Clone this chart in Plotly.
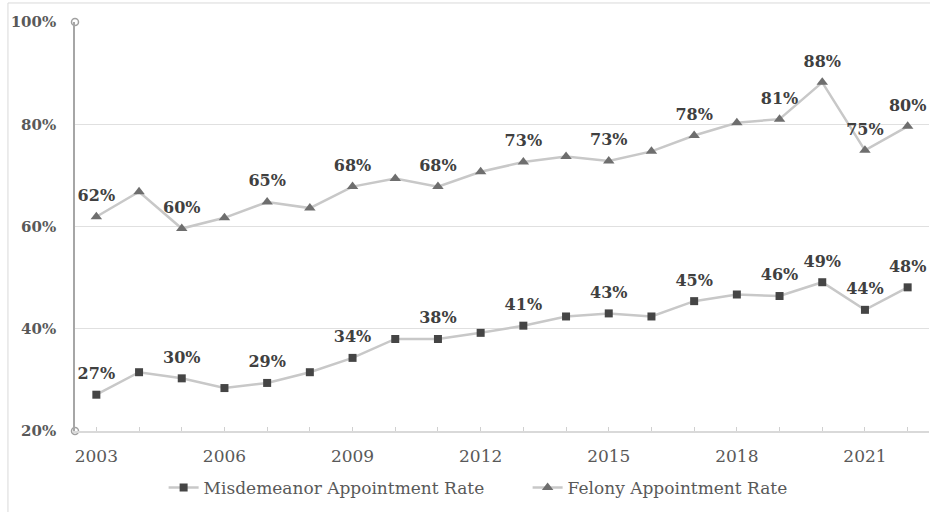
import plotly.graph_objects as go

years = list(range(2003, 2023))
felony = [61.9, 66.8, 59.6, 61.7, 64.8, 63.6, 67.8, 69.4, 67.8, 70.7,
          72.6, 73.7, 72.8, 74.7, 77.8, 80.3, 81.0, 88.2, 74.9, 79.6]
misdemeanor = [27.1, 31.5, 30.3, 28.4, 29.4, 31.5, 34.3, 38.0, 38.0, 39.2,
               40.6, 42.4, 43.0, 42.4, 45.4, 46.7, 46.4, 49.1, 43.7, 48.1]
labeled_years = [2003, 2005, 2007, 2009, 2011, 2013, 2015, 2017, 2019, 2020, 2021, 2022]
tick_years = [2003, 2006, 2009, 2012, 2015, 2018, 2021]
y_ticks = [20, 40, 60, 80, 100]

FONT = "DejaVu Serif"
LINE = "#c8c8c8"
LABEL = "#404040"
AXIS_TXT = "#595959"


def labels(vals):
    return [f"{v:.0f}%" if y in labeled_years else "" for y, v in zip(years, vals)]


fig = go.Figure()
for name, vals, sym, size, col in [
    ("Misdemeanor Appointment Rate", misdemeanor, "square", 8, "#454545"),
    ("Felony Appointment Rate", felony, "triangle-up", 10, "#6e6e6e"),
]:
    fig.add_trace(go.Scatter(
        x=years, y=vals, mode="lines+markers", name=name,
        line=dict(color=LINE, width=2.5),
        marker=dict(symbol=sym, size=size, color=col),
        cliponaxis=False,
    ))
for vals in [misdemeanor, felony]:
    fig.add_trace(go.Scatter(
        x=years, y=vals, mode="markers+text", showlegend=False, hoverinfo="skip",
        marker=dict(size=17, color="rgba(0,0,0,0)"),
        text=labels(vals), textposition="top center",
        textfont=dict(family=FONT, size=16, color=LABEL, weight="bold"),
        cliponaxis=False,
    ))
# axis end circles
fig.add_trace(go.Scatter(
    x=[years[0] - 0.5, years[0] - 0.5], y=[y_ticks[0], y_ticks[-1]], mode="markers",
    marker=dict(symbol="circle-open", size=7, color="#a0a0a0", line=dict(width=1.5)),
    showlegend=False, hoverinfo="skip", cliponaxis=False,
))

fig.update_layout(
    width=930, height=512,
    margin=dict(l=75, r=1, t=22, b=81),
    paper_bgcolor="white", plot_bgcolor="white",
    font=dict(family=FONT, size=16, color=AXIS_TXT),
    showlegend=True,
    legend=dict(orientation="h", x=0.53, xanchor="center", y=-0.139, yanchor="middle",
                font=dict(family=FONT, size=17, color=AXIS_TXT), itemwidth=30,
                entrywidth=319, bgcolor="rgba(0,0,0,0)"),
    shapes=[dict(type="rect", xref="paper", yref="paper",
                 x0=-0.0785, x1=1.01, y0=-0.22, y1=1.0465,
                 line=dict(color="#d9d9d9", width=1), layer="below")],
)
fig.update_xaxes(
    range=[years[0] - 0.5, years[-1] + 0.5],
    tickvals=years,
    ticktext=[str(y) if y in tick_years else "" for y in years],
    ticks="inside", ticklen=4, tickcolor="#d0d0d0",
    showline=True, linecolor="#d9d9d9", linewidth=1.5,
    showgrid=False, zeroline=False,
    tickfont=dict(family=FONT, size=17, color=AXIS_TXT),
    ticklabelstandoff=9,
)
fig.update_yaxes(
    range=[y_ticks[0], y_ticks[-1]], tickvals=y_ticks,
    ticktext=[f"{t}%" for t in y_ticks],
    showline=True, linecolor="#a6a6a6", linewidth=1.5,
    showgrid=True, gridcolor="#e0e0e0", gridwidth=1, zeroline=False,
    tickfont=dict(family=FONT, size=15, color=AXIS_TXT, weight="bold"),
    ticklabelstandoff=14,
)

fig.write_html("out.html")
